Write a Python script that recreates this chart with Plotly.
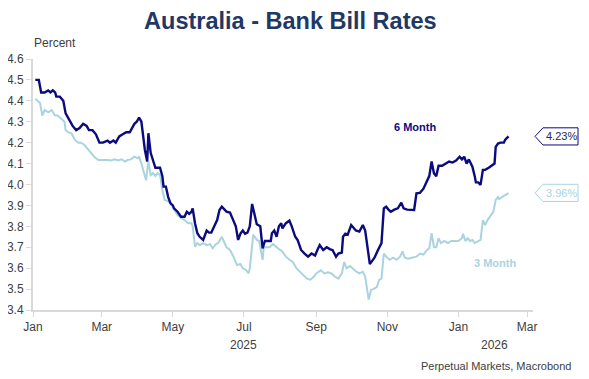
import plotly.graph_objects as go

# ---------------- data ----------------
dates_6m = [
    "2025-01-03", "2025-01-06", "2025-01-07", "2025-01-08", "2025-01-11", "2025-01-14", "2025-01-16",
    "2025-01-18", "2025-01-20", "2025-01-21", "2025-01-24", "2025-01-27", "2025-01-29", "2025-01-30",
    "2025-02-01", "2025-02-04", "2025-02-07", "2025-02-10", "2025-02-13", "2025-02-16", "2025-02-18",
    "2025-02-21", "2025-02-24", "2025-02-27", "2025-03-02", "2025-03-06", "2025-03-08", "2025-03-11",
    "2025-03-13", "2025-03-16", "2025-03-19", "2025-03-22", "2025-03-25", "2025-03-26", "2025-03-29",
    "2025-03-31", "2025-04-02", "2025-04-04", "2025-04-05", "2025-04-07", "2025-04-09", "2025-04-10",
    "2025-04-12", "2025-04-14", "2025-04-16", "2025-04-18", "2025-04-20", "2025-04-22", "2025-04-23",
    "2025-04-25", "2025-04-27", "2025-04-29", "2025-05-01", "2025-05-02", "2025-05-05", "2025-05-08",
    "2025-05-11", "2025-05-13", "2025-05-15", "2025-05-17", "2025-05-18", "2025-05-20", "2025-05-22",
    "2025-05-24", "2025-05-27", "2025-05-30", "2025-06-01", "2025-06-03", "2025-06-04", "2025-06-06",
    "2025-06-08", "2025-06-10", "2025-06-12", "2025-06-16", "2025-06-19", "2025-06-22", "2025-06-24",
    "2025-06-26", "2025-06-28", "2025-06-30", "2025-07-02", "2025-07-04", "2025-07-06", "2025-07-08",
    "2025-07-10", "2025-07-12", "2025-07-15", "2025-07-17", "2025-07-19", "2025-07-22", "2025-07-24",
    "2025-07-25", "2025-07-27", "2025-07-29", "2025-07-31", "2025-08-02", "2025-08-03", "2025-08-06",
    "2025-08-09", "2025-08-11", "2025-08-14", "2025-08-16", "2025-08-19", "2025-08-22", "2025-08-25",
    "2025-08-28", "2025-08-31", "2025-09-02", "2025-09-04", "2025-09-07", "2025-09-10", "2025-09-13",
    "2025-09-15", "2025-09-18", "2025-09-20", "2025-09-23", "2025-09-24", "2025-09-26", "2025-09-28",
    "2025-10-01", "2025-10-03", "2025-10-05", "2025-10-08", "2025-10-11", "2025-10-13", "2025-10-15",
    "2025-10-17", "2025-10-19", "2025-10-21", "2025-10-24", "2025-10-27", "2025-10-29", "2025-10-31",
    "2025-11-02", "2025-11-04", "2025-11-07", "2025-11-10", "2025-11-13", "2025-11-15", "2025-11-18",
    "2025-11-22", "2025-11-24", "2025-11-26", "2025-11-29", "2025-12-02", "2025-12-05", "2025-12-07",
    "2025-12-09", "2025-12-11", "2025-12-13", "2025-12-15", "2025-12-18", "2025-12-21", "2025-12-24",
    "2025-12-27", "2025-12-30", "2026-01-02", "2026-01-04", "2026-01-06", "2026-01-08", "2026-01-10",
    "2026-01-13", "2026-01-15", "2026-01-16", "2026-01-18", "2026-01-20", "2026-01-22", "2026-01-24",
    "2026-01-27", "2026-01-30", "2026-02-01", "2026-02-02", "2026-02-04", "2026-02-06", "2026-02-09",
    "2026-02-10", "2026-02-12", "2026-02-13",
]
rate_6m = [
    4.50, 4.50, 4.47, 4.44, 4.44, 4.45, 4.44,
    4.45, 4.44, 4.42, 4.42, 4.40, 4.34, 4.33,
    4.31, 4.28, 4.26, 4.27, 4.29, 4.28, 4.26,
    4.26, 4.24, 4.20, 4.20, 4.21, 4.20, 4.21,
    4.20, 4.23, 4.24, 4.25, 4.25, 4.26, 4.29,
    4.30, 4.32, 4.30, 4.245, 4.165, 4.11, 4.245,
    4.15, 4.12, 4.08, 4.08, 4.08, 4.04, 3.99,
    3.99, 3.94, 3.91, 3.90, 3.886, 3.87, 3.846,
    3.846, 3.87, 3.86, 3.87, 3.886, 3.815, 3.767,
    3.75, 3.735, 3.78, 3.77, 3.77, 3.78, 3.806,
    3.83, 3.878, 3.894, 3.87, 3.866, 3.83, 3.80,
    3.735, 3.765, 3.78, 3.765, 3.77, 3.80, 3.907,
    3.855, 3.81, 3.80, 3.695, 3.73, 3.73, 3.73,
    3.767, 3.78, 3.75, 3.80, 3.815, 3.79, 3.815,
    3.827, 3.80, 3.75, 3.735, 3.687, 3.67, 3.655,
    3.67, 3.66, 3.687, 3.71, 3.687, 3.70, 3.69,
    3.687, 3.655, 3.67, 3.675, 3.75, 3.765, 3.76,
    3.806, 3.79, 3.78, 3.775, 3.806, 3.78, 3.70,
    3.62, 3.635, 3.65, 3.687, 3.72, 3.886, 3.894,
    3.88, 3.87, 3.88, 3.886, 3.913, 3.886, 3.88,
    3.878, 3.878, 3.958, 3.96, 3.98, 4.02, 4.04,
    4.11, 4.054, 4.04, 4.09, 4.09, 4.10, 4.11,
    4.105, 4.115, 4.133, 4.12, 4.133, 4.10, 4.12,
    4.085, 4.04, 4.01, 4.01, 3.998, 4.07, 4.07,
    4.08, 4.09, 4.10, 4.18, 4.196, 4.20, 4.20,
    4.213, 4.226, 4.23,
]

dates_3m = [
    "2025-01-03", "2025-01-06", "2025-01-07", "2025-01-09", "2025-01-11", "2025-01-14", "2025-01-17",
    "2025-01-20", "2025-01-22", "2025-01-25", "2025-01-28", "2025-01-29", "2025-01-31", "2025-02-03",
    "2025-02-06", "2025-02-09", "2025-02-11", "2025-02-14", "2025-02-17", "2025-02-20", "2025-02-23",
    "2025-02-26", "2025-03-01", "2025-03-03", "2025-03-06", "2025-03-09", "2025-03-12", "2025-03-15",
    "2025-03-18", "2025-03-21", "2025-03-23", "2025-03-26", "2025-03-29", "2025-04-01", "2025-04-02",
    "2025-04-04", "2025-04-06", "2025-04-08", "2025-04-10", "2025-04-12", "2025-04-14", "2025-04-16",
    "2025-04-18", "2025-04-20", "2025-04-22", "2025-04-24", "2025-04-27", "2025-04-30", "2025-05-02",
    "2025-05-05", "2025-05-08", "2025-05-11", "2025-05-14", "2025-05-17", "2025-05-18", "2025-05-20",
    "2025-05-22", "2025-05-24", "2025-05-27", "2025-05-30", "2025-06-02", "2025-06-04", "2025-06-07",
    "2025-06-09", "2025-06-12", "2025-06-14", "2025-06-16", "2025-06-19", "2025-06-22", "2025-06-25",
    "2025-06-28", "2025-06-30", "2025-07-03", "2025-07-05", "2025-07-06", "2025-07-09", "2025-07-12",
    "2025-07-14", "2025-07-17", "2025-07-18", "2025-07-20", "2025-07-23", "2025-07-26", "2025-07-29",
    "2025-08-01", "2025-08-03", "2025-08-06", "2025-08-09", "2025-08-12", "2025-08-15", "2025-08-18",
    "2025-08-21", "2025-08-24", "2025-08-27", "2025-08-30", "2025-09-01", "2025-09-05", "2025-09-08",
    "2025-09-11", "2025-09-14", "2025-09-17", "2025-09-20", "2025-09-23", "2025-09-25", "2025-09-27",
    "2025-09-30", "2025-10-03", "2025-10-05", "2025-10-08", "2025-10-11", "2025-10-13", "2025-10-15",
    "2025-10-16", "2025-10-18", "2025-10-20", "2025-10-23", "2025-10-25", "2025-10-27", "2025-10-29",
    "2025-10-31", "2025-11-03", "2025-11-06", "2025-11-09", "2025-11-12", "2025-11-14", "2025-11-16",
    "2025-11-19", "2025-11-22", "2025-11-26", "2025-11-29", "2025-12-02", "2025-12-05", "2025-12-07",
    "2025-12-09", "2025-12-11", "2025-12-13", "2025-12-15", "2025-12-17", "2025-12-20", "2025-12-23",
    "2025-12-26", "2025-12-29", "2026-01-01", "2026-01-04", "2026-01-05", "2026-01-07", "2026-01-09",
    "2026-01-11", "2026-01-13", "2026-01-15", "2026-01-18", "2026-01-20", "2026-01-22", "2026-01-24",
    "2026-01-26", "2026-01-28", "2026-01-31", "2026-02-02", "2026-02-04", "2026-02-05", "2026-02-07",
    "2026-02-09", "2026-02-12", "2026-02-13",
]
rate_3m = [
    4.41, 4.395, 4.39, 4.33, 4.356, 4.345, 4.356,
    4.33, 4.33, 4.316, 4.30, 4.26, 4.25, 4.245,
    4.213, 4.20, 4.20, 4.19, 4.17, 4.15, 4.13,
    4.117, 4.117, 4.12, 4.117, 4.115, 4.12, 4.115,
    4.12, 4.11, 4.117, 4.12, 4.133, 4.125, 4.133,
    4.10, 4.054, 4.02, 4.11, 4.045, 4.054, 4.04,
    4.054, 4.045, 3.974, 3.926, 3.92, 3.90, 3.88,
    3.854, 3.84, 3.83, 3.815, 3.815, 3.80, 3.703,
    3.72, 3.71, 3.72, 3.71, 3.715, 3.695, 3.715,
    3.72, 3.75, 3.72, 3.70, 3.687, 3.655, 3.615,
    3.62, 3.60, 3.59, 3.575, 3.60, 3.76, 3.735,
    3.73, 3.64, 3.70, 3.70, 3.70, 3.715, 3.70,
    3.687, 3.68, 3.655, 3.64, 3.63, 3.60, 3.583,
    3.567, 3.55, 3.545, 3.56, 3.575, 3.59, 3.575,
    3.58, 3.575, 3.56, 3.55, 3.575, 3.63, 3.60,
    3.61, 3.595, 3.585, 3.575, 3.583, 3.56, 3.496,
    3.45, 3.496, 3.50, 3.51, 3.544, 3.55, 3.67,
    3.655, 3.64, 3.65, 3.64, 3.655, 3.68, 3.65,
    3.645, 3.65, 3.655, 3.67, 3.665, 3.687, 3.695,
    3.767, 3.70, 3.70, 3.743, 3.72, 3.73, 3.72,
    3.73, 3.73, 3.73, 3.743, 3.764, 3.73, 3.743,
    3.73, 3.735, 3.72, 3.73, 3.735, 3.83, 3.806,
    3.83, 3.846, 3.87, 3.926, 3.94, 3.93, 3.94,
    3.946, 3.955, 3.96,
]

series_names = ["6 Month", "3 Month"]
y_ticks = [3.4, 3.5, 3.6, 3.7, 3.8, 3.9, 4.0, 4.1, 4.2, 4.3, 4.4, 4.5, 4.6]
year_labels = ["2025", "2026"]
year_label_dates = ["2025-07-01", "2026-02-01"]
title_text = "Australia - Bank Bill Rates"
source_text = "Perpetual Markets, Macrobond"

# ---------------- styling ----------------
NAVY = "#0b0b7d"
LIGHT = "#a9d4df"
AXIS = "#d9d9d9"
TXT = "#404040"
FONT = "Arial, Liberation Sans, sans-serif"

# the page body adds an 8px offset; the figure is sized so it fills the 589x379 window
W, H = 581, 371

fig = go.Figure()
fig.add_trace(go.Scatter(x=dates_3m, y=rate_3m, mode="lines", name=series_names[1],
                         line=dict(color=LIGHT, width=2)))
fig.add_trace(go.Scatter(x=dates_6m, y=rate_6m, mode="lines", name=series_names[0],
                         line=dict(color=NAVY, width=2.4)))

fig.update_layout(
    width=W, height=H, autosize=False,
    margin=dict(l=25, r=56, t=51, b=69, autoexpand=False),
    paper_bgcolor="white", plot_bgcolor="white",
    showlegend=False,
    font=dict(family=FONT, size=12, color=TXT),
    title=dict(text="<b>" + title_text + "</b>", x=0.486, xref="container", xanchor="center",
               y=0.966, yref="container", yanchor="middle",
               font=dict(family=FONT, size=23.5, color="#1f3864")),
)

fig.update_xaxes(
    type="date", range=["2025-01-01", "2026-03-06"], automargin=False,
    tick0="2025-01-01", dtick="M2", tickformat="%b",
    showline=True, linecolor=AXIS, linewidth=2,
    ticks="outside", ticklen=5, tickcolor=AXIS, tickwidth=1,
    showgrid=False, zeroline=False,
    tickfont=dict(family=FONT, size=12, color=TXT),
)
fig.update_yaxes(
    range=[3.4, 4.6], tickvals=y_ticks, tickformat=".1f", automargin=False,
    showline=True, linecolor=AXIS, linewidth=2,
    ticks="outside", ticklen=5, tickcolor=AXIS, tickwidth=1,
    showgrid=False, zeroline=False,
    tickfont=dict(family=FONT, size=12, color=TXT),
)

annotations = [
    dict(text="Percent", xref="paper", yref="paper", x=-0.002, y=1.064,
         xanchor="left", yanchor="middle", showarrow=False,
         font=dict(family=FONT, size=12, color=TXT)),
    dict(text=source_text, xref="paper", yref="paper", x=1.08, y=-0.223,
         xanchor="right", yanchor="middle", showarrow=False,
         font=dict(family=FONT, size=11, color=TXT)),
    dict(text="<b>6 Month</b>", xref="x", yref="y", x="2025-11-25", y=4.275,
         xanchor="center", yanchor="middle", showarrow=False,
         font=dict(family=FONT, size=11, color=NAVY)),
    dict(text="<b>3 Month</b>", xref="x", yref="y", x="2026-02-01", y=3.625,
         xanchor="center", yanchor="middle", showarrow=False,
         font=dict(family=FONT, size=11, color=LIGHT)),
]
for lbl, d in zip(year_labels, year_label_dates):
    annotations.append(dict(text=lbl, xref="x", yref="paper", x=d, y=-0.139,
                            xanchor="center", yanchor="middle", showarrow=False,
                            font=dict(family=FONT, size=12, color=TXT)))

# value callouts built from last values
shapes = []
half_h = 0.041  # half box height in data units
for vals, col, tcol in [(rate_6m, NAVY, "#2a2a5a"), (rate_3m, LIGHT, LIGHT)]:
    v = vals[-1]
    tip, left, right = 1.004, 1.02, 1.09
    path = (f"M {tip},{v} L {left},{v + half_h} L {right},{v + half_h} "
            f"L {right},{v - half_h} L {left},{v - half_h} Z")
    shapes.append(dict(type="path", xref="paper", yref="y", path=path,
                       line=dict(color=col, width=1), fillcolor="white", layer="above"))
    annotations.append(dict(text=f"{v:.2f}%", xref="paper", yref="y", x=(left + right) / 2 + 0.002, y=v,
                            xanchor="center", yanchor="middle", showarrow=False,
                            font=dict(family=FONT, size=11, color=tcol)))

fig.update_layout(annotations=annotations, shapes=shapes)

fig.write_html("out.html")
